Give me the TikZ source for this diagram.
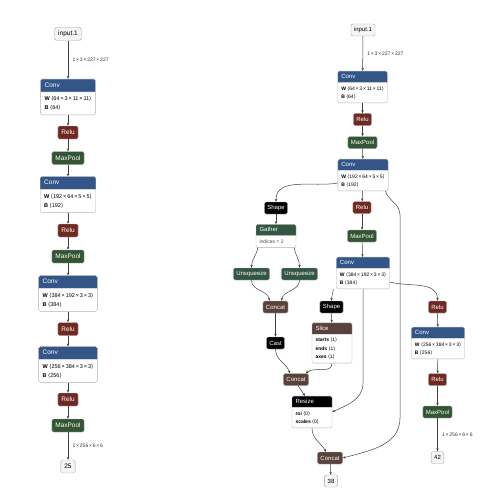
\documentclass[tikz,border=0pt]{standalone}
\usepackage{fontspec}
\setmainfont{Liberation Sans}
\newfontfamily\symfam{DejaVu Sans}
\usepackage{tikz}
\usetikzlibrary{arrows.meta,shapes.multipart}
\definecolor{convblue}{HTML}{335588}
\definecolor{relured}{HTML}{702921}
\definecolor{poolgreen}{HTML}{335533}
\definecolor{xformgreen}{HTML}{335544}
\definecolor{tensorbrown}{HTML}{59423B}
\newcommand{\opfont}{\fontsize{6.5}{7.5}\selectfont}
\newcommand{\attrfont}{\fontsize{5.5}{7}\selectfont}
\newcommand{\by}{\,×\,}
\newcommand{\dims}[1]{{\symfam ⟨}#1{\symfam ⟩}}
\newcommand{\hd}[1]{\textcolor{white}{\opfont\rule[-0.3em]{0pt}{1.15em}#1}}
\newcommand{\attr}[2]{\rule[-0.4em]{0pt}{1.5em}\textbf{#1} \dims{#2}}

\begin{document}
\begin{tikzpicture}[x=1pt,y=-1pt,
  op/.style={draw=gray!60,line width=0.4pt,rounded corners=1.5pt,text=white,
             font=\opfont,minimum height=13pt,inner xsep=3.5pt,inner ysep=1pt},
  relu/.style={op,fill=relured},
  pool/.style={op,fill=poolgreen},
  xform/.style={op,fill=xformgreen},
  tensor/.style={op,fill=tensorbrown},
  blackop/.style={op,fill=black},
  io/.style={op,fill=gray!8,draw=gray!70,text=black},
  layer/.style={rectangle split,rectangle split parts=2,
                rectangle split part fill={#1,white},rectangle split part align=left,
                draw=gray!60,line width=0.4pt,rounded corners=1.5pt,
                font=\attrfont,align=left,inner xsep=4pt,inner ysep=2.5pt},
  flow/.style={draw=black!75,line width=0.5pt,-{Stealth[length=3pt,width=2.4pt]}},
  lbl/.style={font=\fontsize{5}{6}\selectfont,text=black!80,right=1pt}]

  \useasboundingbox (0,0) rectangle (500,500);

  % left graph
  \node[io] (lin) at (68,34) {input.1};
  \node[layer=convblue] (lc1) at (68,97) {\hd{Conv}\nodepart{two}\attr{W}{64\by3\by11\by11}\\\attr{B}{64}};
  \node[relu] (lr1) at (68,132.5) {Relu};
  \node[pool] (lp1) at (68,158) {MaxPool};
  \node[layer=convblue] (lc2) at (68,194.5) {\hd{Conv}\nodepart{two}\attr{W}{192\by64\by5\by5}\\\attr{B}{192}};
  \node[relu] (lr2) at (68,230.5) {Relu};
  \node[pool] (lp2) at (68,256.5) {MaxPool};
  \node[layer=convblue] (lc3) at (68,293.5) {\hd{Conv}\nodepart{two}\attr{W}{384\by192\by3\by3}\\\attr{B}{384}};
  \node[relu] (lr3) at (68,329) {Relu};
  \node[layer=convblue] (lc4) at (68,364.5) {\hd{Conv}\nodepart{two}\attr{W}{256\by384\by3\by3}\\\attr{B}{256}};
  \node[relu] (lr4) at (68,399.5) {Relu};
  \node[pool] (lp4) at (68,425.5) {MaxPool};
  \node[io] (lout) at (68,466.5) {25};

  \draw[flow] (lin) -- node[lbl]{1\by3\by227\by227} (lc1);
  \draw[flow] (lc1) -- (lr1);
  \draw[flow] (lr1) -- (lp1);
  \draw[flow] (lp1) -- (lc2);
  \draw[flow] (lc2) -- (lr2);
  \draw[flow] (lr2) -- (lp2);
  \draw[flow] (lp2) -- (lc3);
  \draw[flow] (lc3) -- (lr3);
  \draw[flow] (lr3) -- (lc4);
  \draw[flow] (lc4) -- (lr4);
  \draw[flow] (lr4) -- (lp4);
  \draw[flow] (lp4) -- node[lbl]{1\by256\by6\by6} (lout);

  % right graph
  \begin{scope}
  \renewcommand{\opfont}{\fontsize{6}{7}\selectfont}
  \renewcommand{\attrfont}{\fontsize{5}{6.5}\selectfont}
  \tikzset{op/.append style={minimum height=12pt,inner xsep=3pt},
           layer/.append style={inner xsep=3.5pt,inner ysep=2pt}}
  \node[io] (rin) at (363,30) {input.1};
  \node[layer=convblue] (rc1) at (362.5,87) {\hd{Conv}\nodepart{two}\attr{W}{64\by3\by11\by11}\\\attr{B}{64}};
  \node[relu] (rr1) at (362.5,119.5) {Relu};
  \node[pool] (rp1) at (362.5,142.5) {MaxPool};
  \node[layer=convblue] (rc2) at (363,175) {\hd{Conv}\nodepart{two}\attr{W}{192\by64\by5\by5}\\\attr{B}{192}};
  \node[blackop] (shape1) at (276,208) {Shape};
  \node[relu] (rr2) at (362,207.5) {Relu};
  \node[layer=xformgreen,minimum width=40pt] (gather) at (276,236) {\hd{Gather}\nodepart{two}\rule[-0.4em]{0pt}{1.5em}\textcolor{black!70}{indices = 2}};
  \node[pool] (rp2) at (362,236) {MaxPool};
  \node[xform] (unsqL) at (251.5,274) {Unsqueeze};
  \node[xform] (unsqR) at (299.5,274) {Unsqueeze};
  \node[layer=convblue] (rc3) at (363,273) {\hd{Conv}\nodepart{two}\attr{W}{384\by192\by3\by3}\\\attr{B}{384}};
  \node[tensor] (concat1) at (275.5,307) {Concat};
  \node[blackop] (shape2) at (331.5,307) {Shape};
  \node[relu] (rr3) at (437.5,307) {Relu};
  \node[blackop] (cast) at (275.5,343) {Cast};
  \node[layer=tensorbrown,minimum width=40pt] (slice) at (332,343) {\hd{Slice}\nodepart{two}\attr{starts}{1}\\\attr{ends}{1}\\\attr{axes}{1}};
  \node[layer=convblue] (rc4) at (438,343) {\hd{Conv}\nodepart{two}\attr{W}{256\by384\by3\by3}\\\attr{B}{256}};
  \node[tensor] (concat2) at (296,379.5) {Concat};
  \node[relu] (rr4) at (437.5,379.5) {Relu};
  \node[layer=black,minimum width=40pt] (resize) at (312,412) {\hd{Resize}\nodepart{two}\attr{roi}{0}\\\attr{scales}{0}};
  \node[pool] (rp4) at (437.5,412) {MaxPool};
  \node[tensor] (concat3) at (330,458) {Concat};
  \node[io] (rout1) at (331,481) {38};
  \node[io] (rout2) at (437.5,457.5) {42};
  \coordinate (skipA) at (400,215);
  \coordinate (skipB) at (400,418);
  \coordinate (rzbend) at (363,383);
  \end{scope}

  \draw[flow] (rin) -- node[lbl]{1\by3\by227\by227} (rc1);
  \draw[flow] (rc1) -- (rr1);
  \draw[flow] (rr1) -- (rp1);
  \draw[flow] (rp1) -- (rc2);
  \draw[flow] (rc2) -- (rr2);
  \draw[flow] (rr2) -- (rp2);
  \draw[flow] (rp2) -- (rc3);
  \draw[flow] ([yshift=8pt]rc2.south west) to[out=190,in=90] (shape1.north);
  \draw[flow] ([xshift=-3pt]rc2.south east) to[out=-70,in=90] (skipA) -- (skipB) to[out=-90,in=15] (concat3.east);
  \draw[flow] (shape1) -- (gather);
  \draw[flow] ([xshift=2pt]gather.south west) to[out=-100,in=90] (unsqL.north);
  \draw[flow] ([xshift=-2pt]gather.south east) to[out=-80,in=90] (unsqR.north);
  \draw[flow] (unsqL.south) to[out=-90,in=100] ([xshift=-6pt]concat1.north);
  \draw[flow] (unsqR.south) to[out=-90,in=80] ([xshift=6pt]concat1.north);
  \draw[flow] (concat1) -- (cast);
  \draw[flow] (cast.south) to[out=-90,in=110] ([xshift=-6pt]concat2.north);
  \draw[flow] ([xshift=-3pt]rc3.south west) to[out=-95,in=90] (shape2.north);
  \draw[flow] (shape2) -- (slice);
  \draw[flow] (slice.south) to[out=-90,in=40] ([xshift=-3pt]concat2.north east);
  \draw[flow] ([xshift=2pt]concat2.south) -- ([xshift=-7pt]resize.north);
  \draw[flow] (rc3.south) -- (rzbend) to[out=-90,in=25] (resize.east);
  \draw[flow] ([yshift=-9pt]rc3.east) to[out=-15,in=90] (rr3.north);
  \draw[flow] (resize.south) to[out=-90,in=120] ([xshift=-4pt]concat3.north);
  \draw[flow] (concat3) -- (rout1);
  \draw[flow] (rr3) -- (rc4);
  \draw[flow] (rc4) -- (rr4);
  \draw[flow] (rr4) -- (rp4);
  \draw[flow] (rp4) -- node[lbl]{1\by256\by6\by6} (rout2);
\end{tikzpicture}
\end{document}
